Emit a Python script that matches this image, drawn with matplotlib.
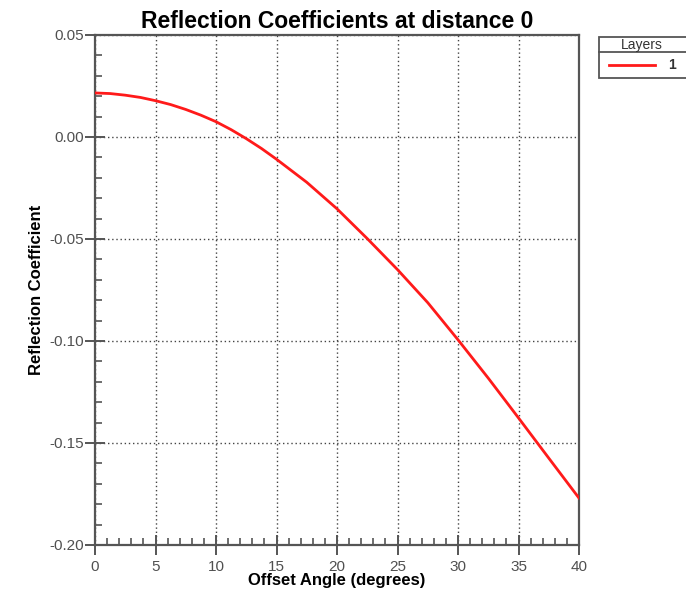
import matplotlib
matplotlib.use("Agg")
import matplotlib.pyplot as plt
from matplotlib.ticker import MultipleLocator, FormatStrFormatter
from matplotlib.patches import Rectangle
from matplotlib.lines import Line2D

plt.rcParams['font.family'] = ['Liberation Sans', 'DejaVu Sans']

# Data
angles = [0, 1.25, 2.5, 3.75, 5, 6.25, 7.5, 8.75, 10, 11.25, 12.5, 13.75, 15, 17.5, 20,
          22.5, 25, 27.5, 30, 32.5, 35, 37.5, 40]
refl = [0.0216, 0.0213, 0.0205, 0.0194, 0.0178, 0.0159, 0.0135, 0.0107, 0.0075, 0.0036,
        -0.0008, -0.0056, -0.0109, -0.0222, -0.0352, -0.0498, -0.0650, -0.0812, -0.0994,
        -0.1182, -0.1377, -0.1574, -0.1770]
series_name = "1"
legend_title = "Layers"

W, H = 686, 595
fig = plt.figure(figsize=(W / 100, H / 100), dpi=100)
ax = fig.add_axes([95 / W, 1 - 545 / H, (579 - 95) / W, (545 - 35) / H])

ax.plot(angles, refl, color='#ff1a1a', lw=2.0, zorder=3, solid_joinstyle='round')

ax.set_xlim(0, 40)
ax.set_ylim(-0.20, 0.05)
ax.xaxis.set_major_locator(MultipleLocator(5))
ax.xaxis.set_minor_locator(MultipleLocator(1))
ax.yaxis.set_major_locator(MultipleLocator(0.05))
ax.yaxis.set_minor_locator(MultipleLocator(0.01))
ax.yaxis.set_major_formatter(FormatStrFormatter('%.2f'))

spine_c = '#555555'
for s in ax.spines.values():
    s.set_color(spine_c)
    s.set_linewidth(1.6)

ax.tick_params(which='major', direction='inout', length=14, width=1.4, color=spine_c,
               labelsize=11, labelcolor='#505050')
ax.tick_params(axis='x', which='major', pad=4)
ax.tick_params(axis='y', which='major', pad=1)
ax.tick_params(which='minor', direction='in', length=5, width=1.2, color=spine_c)

ax.grid(True, which='major', color='#444444', linestyle=(0, (1, 2)), linewidth=1.0)
ax.set_axisbelow(True)

ax.set_title('Reflection Coefficients at distance 0', fontsize=16.5, fontweight='bold', pad=5)
ax.set_xlabel('Offset Angle (degrees)', fontsize=12, fontweight='bold', labelpad=-1)
ax.set_ylabel('Reflection Coefficient', fontsize=12, fontweight='bold', labelpad=4)

# Legend box (manual, matching reference look)
def fx(px):
    return px / W

def fy(py):
    return 1 - py / H

box_l, box_r, box_t, box_m, box_b = 599, 690, 37, 52, 78
fig.patches.append(Rectangle((fx(box_l), fy(box_b)), fx(box_r) - fx(box_l), fy(box_t) - fy(box_b),
                             transform=fig.transFigure, fill=True, facecolor='white',
                             edgecolor='#555555', lw=1.3))
fig.lines.append(Line2D([fx(box_l), fx(box_r)], [fy(box_m), fy(box_m)], transform=fig.transFigure,
                        color='#555555', lw=1.3))
fig.text(fx(642), fy(44.5), legend_title, ha='center', va='center', fontsize=10, color='#333333')
fig.lines.append(Line2D([fx(609), fx(655)], [fy(65), fy(65)], transform=fig.transFigure,
                        color='#ff1a1a', lw=2.0))
fig.text(fx(672), fy(65), series_name, ha='center', va='center', fontsize=10,
         fontweight='bold', color='#333333')

fig.savefig('out.png', dpi=100)
